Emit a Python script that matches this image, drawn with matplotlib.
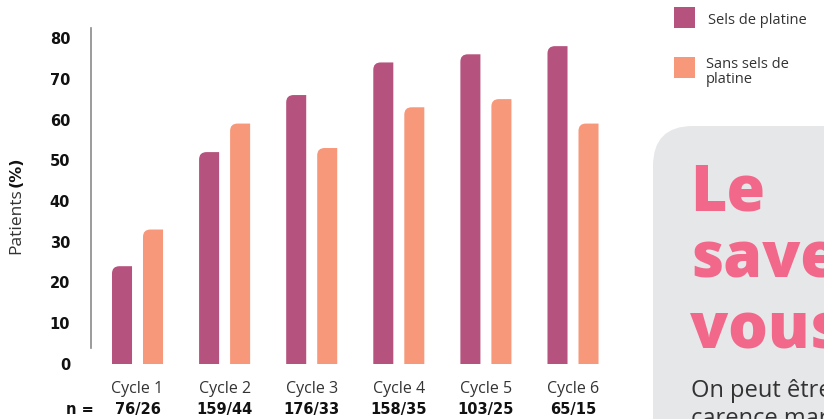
import matplotlib
matplotlib.use("Agg")
import numpy as np
import matplotlib.pyplot as plt
from matplotlib.path import Path
from matplotlib.patches import PathPatch, FancyBboxPatch

cycles = ["Cycle 1", "Cycle 2", "Cycle 3", "Cycle 4", "Cycle 5", "Cycle 6"]
n_labels = ["76/26", "159/44", "176/33", "158/35", "103/25", "65/15"]
sels = [24, 52, 66, 74, 76, 78]
sans_sels = [33, 59, 53, 63, 65, 59]
yticks = [0, 10, 20, 30, 40, 50, 60, 70, 80]

purple = "#b5527d"
orange = "#f7987a"
pink = "#f2688a"
dark = "#333333"
heavy = ['DejaVu Sans']

plt.rcParams['font.family'] = ['Open Sans', 'DejaVu Sans']

W, H = 824, 419
fig = plt.figure(figsize=(W / 100, H / 100), dpi=100)

# axes placed in pixel terms
left, right, bottom, top = 91, 640, 364, 26
ax = fig.add_axes([left / W, (H - bottom) / H, (right - left) / W, (bottom - top) / H])
ymax = (bottom - top) / 4.075
ax.set_ylim(0, ymax)
ax.set_xlim(-0.534, (right - 137.5) / 87.1)

x = np.arange(len(cycles))
bw = 0.23
off = 0.178
b1 = ax.bar(x - off, sels, bw, color=purple)
b2 = ax.bar(x + off, sans_sels, bw, color=orange)

# round top-left corner of each bar
rx, ry = 0.085, 1.8
for bars in (b1, b2):
    for r in bars:
        x0, y0, w, h = r.get_x(), r.get_y(), r.get_width(), r.get_height()
        verts = [(x0, y0), (x0 + w, y0), (x0 + w, y0 + h), (x0 + rx, y0 + h),
                 (x0, y0 + h), (x0, y0 + h - ry), (x0, y0)]
        codes = [Path.MOVETO, Path.LINETO, Path.LINETO, Path.LINETO,
                 Path.CURVE3, Path.CURVE3, Path.CLOSEPOLY]
        ax.add_patch(PathPatch(Path(verts, codes), facecolor=r.get_facecolor(), edgecolor='none'))
        r.remove()

for s in ['top', 'right', 'bottom']:
    ax.spines[s].set_visible(False)
ax.spines['left'].set_color('#8a8a8a')
ax.spines['left'].set_linewidth(1.2)
ax.spines['left'].set_bounds(4, 82.5)

ax.set_yticks(yticks)
ax.set_yticklabels([str(v) for v in yticks], fontsize=10.5, fontweight='bold',
                   family=heavy, color='#111111')
ax.tick_params(axis='y', length=0, pad=15)
ax.set_xticks(x)
ax.set_xticklabels(cycles, fontsize=11.5, color=dark)
ax.tick_params(axis='x', length=0, pad=12)

for xi, lab in zip(x, n_labels):
    ax.text(xi, -0.135, lab, transform=ax.get_xaxis_transform(), ha='center', va='center',
            fontsize=10.5, fontweight='bold', family=heavy, color='#111111')
ax.text(-0.66, -0.135, "n =", transform=ax.get_xaxis_transform(), ha='center', va='center',
        fontsize=10.5, fontweight='bold', family=heavy, color='#111111')

# y label: "Patients (%)"
fig.text(16 / W, 1 - 221 / H, "Patients", rotation=90, ha='center', va='center',
         fontsize=12.5, color=dark)
fig.text(16 / W, 1 - 172 / H, "(%)", rotation=90, ha='center', va='center',
         fontsize=11.5, fontweight='bold', family=heavy, color='#111111')

# legend
fig.patches.append(FancyBboxPatch((674 / W, 1 - 28 / H), 21 / W, 21 / H, boxstyle='square,pad=0',
                                  transform=fig.transFigure, facecolor=purple, edgecolor='none'))
fig.patches.append(FancyBboxPatch((674 / W, 1 - 78 / H), 21 / W, 21 / H, boxstyle='square,pad=0',
                                  transform=fig.transFigure, facecolor=orange, edgecolor='none'))
fig.text(708 / W, 1 - 20 / H, "Sels de platine", ha='left', va='center', fontsize=10.5, color=dark)
fig.text(706 / W, 1 - 72 / H, "Sans sels de\nplatine", ha='left', va='center', fontsize=10.5,
         color=dark, linespacing=0.95)

# grey info box (runs off the figure)
box = FancyBboxPatch((6.53, -1.0), 3.0, 2.93 + 1.0, boxstyle='round,pad=0,rounding_size=0.4',
                     transform=fig.dpi_scale_trans, facecolor='#e6e7e9', edgecolor='none',
                     clip_on=False)
fig.patches.append(box)
for line, yb in zip(["Le", "savez-", "vous ?"], [210, 278, 348]):
    fig.text(690 / W, 1 - yb / H, line, ha='left', va='baseline', fontsize=45,
             fontweight='black', color=pink)
for line, yb in zip(["On peut être en", "carence martiale"], [397, 425]):
    fig.text(691 / W, 1 - yb / H, line, ha='left', va='baseline', fontsize=17, color=dark)

fig.savefig("out.png", dpi=100)
